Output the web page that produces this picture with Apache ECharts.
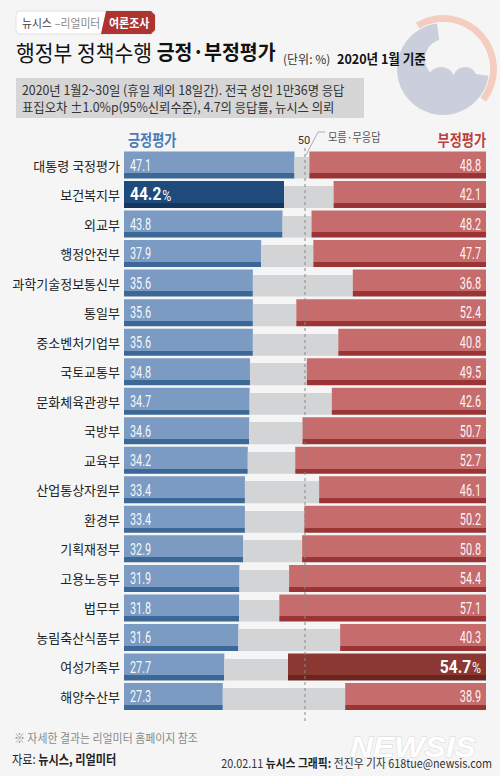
<!DOCTYPE html>
<html><head><meta charset="utf-8">
<script src="https://cdn.jsdelivr.net/npm/echarts@6/dist/echarts.min.js"></script>
<style>html,body{margin:0;padding:0;background:#f5f5f5;}#c{width:500px;height:776px;}</style>
</head><body><div id="c"></div>
<script>
const categories = ['대통령 국정평가','보건복지부','외교부','행정안전부','과학기술정보통신부','통일부','중소벤처기업부','국토교통부','문화체육관광부','국방부','교육부','산업통상자원부','환경부','기획재정부','고용노동부','법무부','농림축산식품부','여성가족부','해양수산부'];
const positive = [47.1,44.2,43.8,37.9,35.6,35.6,35.6,34.8,34.7,34.6,34.2,33.4,33.4,32.9,31.9,31.8,31.6,27.7,27.3];
const negative = [48.8,42.1,48.2,47.7,36.8,52.4,40.8,49.5,42.6,50.7,52.7,46.1,50.2,50.8,54.4,57.1,40.3,54.7,38.9];
const dontKnow = categories.map((c,i)=>Math.round((100-positive[i]-negative[i])*10)/10);
const axisRange = [0, 100];
const midMark = 50;
const highlightPositive = 1, highlightNegative = 17;

const KR = '"Noto Sans CJK KR", sans-serif';
const NUM = 'Roboto, "Liberation Sans", sans-serif';
function band(c, s){
  return new echarts.graphic.LinearGradient(0,0,0,1,[{offset:0,color:c},{offset:0.81,color:c},{offset:0.81,color:s},{offset:1,color:s}]);
}
function grayFill(){
  return new echarts.graphic.LinearGradient(0,0,0,1,[{offset:0,color:'rgba(211,212,214,0)'},{offset:0.19,color:'rgba(211,212,214,0)'},{offset:0.19,color:'#d3d4d6'},{offset:1,color:'#d3d4d6'}]);
}

const chart = echarts.init(document.getElementById('c'), null, {renderer:'svg'});

function labelItem(side){
  return function(params, api){
    const v = api.value(0), i = api.value(1);
    const hl = side==='pos' ? i===highlightPositive : i===highlightNegative;
    const pt = api.coord([side==='pos'?axisRange[0]:axisRange[1], i]);
    const txt = v.toFixed(1);
    return {
      type:'text',
      x: side==='pos' ? pt[0]+6 : pt[0]-5,
      y: pt[1] + (hl?-1:0),
      scaleX: hl ? 0.82 : 0.68,
      style: hl ? {
        text: '{b|'+txt+'}{p|%}',
        textAlign: side==='pos'?'left':'right', verticalAlign:'middle',
        rich:{ b:{fill:'#fff', fontFamily:NUM, fontWeight:'bold', fontSize:19}, p:{fill:'#fff', fontFamily:NUM, fontSize:15, padding:[3,0,0,1]} }
      } : {
        text: txt, fill:'rgba(255,255,255,0.95)', fontFamily:NUM, fontSize:16,
        textAlign: side==='pos'?'left':'right', verticalAlign:'middle'
      }
    };
  };
}

const option = {
  backgroundColor:'#f5f5f5',
  animation:false,
  grid:{left:124, right:14, top:150.25, bottom:64.75, outerBoundsMode:'none'},
  xAxis:{type:'value', min:axisRange[0], max:axisRange[1], show:false},
  yAxis:{type:'category', data:categories, inverse:true,
    axisLine:{show:false}, axisTick:{show:false},
    axisLabel:{color:'#222', fontSize:13, fontFamily:KR, margin:4}},
  series:[
    {type:'bar', stack:'t', barWidth:27, silent:true,
      data: positive.map((v,i)=>({value:v, itemStyle:{color: i===highlightPositive ? band('#1f4a7c','#15375e') : band('#7b9bc3','#3b6896')}}))},
    {type:'bar', stack:'t', barWidth:27, silent:true,
      data: dontKnow.map(v=>({value:v, itemStyle:{color:grayFill()}}))},
    {type:'bar', stack:'t', barWidth:27, silent:true,
      data: negative.map((v,i)=>({value:v, itemStyle:{color: i===highlightNegative ? band('#8c3832','#6c2420') : band('#c76c6c','#9b3535')}}))},
    {type:'custom', z:5, silent:true, renderItem:labelItem('pos'), data: positive.map((v,i)=>[v,i])},
    {type:'custom', z:5, silent:true, renderItem:labelItem('neg'), data: negative.map((v,i)=>[v,i])}
  ]
};
chart.setOption(option);

const x50 = chart.convertToPixel({xAxisIndex:0}, midMark);
const ex = 443, ey = 69;
const eb = '#cbcfdc';
chart.setOption({graphic:[
  // emblem
  {type:'sector', z:0, shape:{cx:ex, cy:ey, r0:47, r:54, startAngle:-2.1, endAngle:0.65, clockwise:true}, style:{fill:'#f4cdc0'}},
  {type:'circle', z:0, shape:{cx:ex, cy:ey, r:46}, style:{fill:eb}},
  {type:'sector', z:0, shape:{cx:ex, cy:ey, r0:0, r:47, startAngle:-1.7, endAngle:0.15, clockwise:true}, style:{fill:'#f5f5f5'}},
  {type:'circle', z:0, shape:{cx:ex+2, cy:ey-10, r:20}, style:{fill:'#f5f5f5'}},
  {type:'circle', z:0, shape:{cx:ex+22, cy:ey+10, r:12}, style:{fill:eb}},
  {type:'circle', z:0, shape:{cx:ex-2, cy:ey+12, r:14}, style:{fill:eb}},
  // badge
  {type:'rect', z:10, shape:{x:16, y:11, width:139, height:23, r:4}, style:{fill:'#ffffff', stroke:'#e2e2e2', lineWidth:1}},
  {type:'polygon', z:10, shape:{points:[[106,11],[151,11],[155,15],[155,30],[151,34],[101,34]]}, style:{fill:'#ad342f'}},
  {type:'text', z:11, x:22, y:22.5, scaleX:0.9, style:{text:'{a|뉴시스} {b|–리얼미터}', verticalAlign:'middle',
    rich:{a:{fill:'#444', fontSize:12, fontFamily:KR}, b:{fill:'#8a8a8a', fontSize:12, fontFamily:KR}}}},
  {type:'text', z:11, x:109, y:22.5, scaleX:0.88, style:{text:'여론조사', fill:'#fff', fontSize:12.5, fontWeight:'bold', fontFamily:KR, verticalAlign:'middle'}},
  // title
  {type:'text', z:11, x:16, y:51.5, scaleX:0.95, style:{text:'{a|행정부 정책수행 }{b|긍정·부정평가}', verticalAlign:'middle',
    rich:{a:{fill:'#111', fontSize:21.5, fontFamily:KR}, b:{fill:'#111', fontSize:20.5, fontWeight:'bold', fontFamily:KR}}}},
  {type:'text', z:11, x:283, y:58, style:{text:'(단위: %)', fill:'#333', fontSize:12, fontFamily:KR, verticalAlign:'middle'}},
  {type:'text', z:11, x:337, y:58, scaleX:0.93, style:{text:'2020년 1월 기준', fill:'#111', fontSize:13.5, fontWeight:'bold', fontFamily:KR, verticalAlign:'middle'}},
  // info box
  {type:'rect', z:10, shape:{x:16, y:78, width:348, height:40}, style:{fill:'#d6d6d6'}},
  {type:'text', z:11, x:22, y:89, scaleX:0.95, style:{text:'2020년 1월2~30일 (휴일 제외 18일간). 전국 성인 1만36명 응답', fill:'#333', fontSize:13, fontFamily:KR, verticalAlign:'middle'}},
  {type:'text', z:11, x:22, y:106.5, scaleX:0.95, style:{text:'표집오차 ±1.0%p(95%신뢰수준), 4.7의 응답률, 뉴시스 의뢰', fill:'#333', fontSize:13, fontFamily:KR, verticalAlign:'middle'}},
  // legend-like headings
  {type:'text', z:11, x:128, y:139, scaleX:0.85, style:{text:'긍정평가', fill:'#4a79b6', fontSize:15.5, fontWeight:'bold', fontFamily:KR, verticalAlign:'middle'}},
  {type:'text', z:11, x:486, y:139, scaleX:0.85, style:{text:'부정평가', fill:'#b9403e', fontSize:15.5, fontWeight:'bold', fontFamily:KR, verticalAlign:'middle', textAlign:'right'}},
  {type:'text', z:11, x:x50-1, y:140, style:{text:String(midMark), fill:'#333', fontSize:11, fontFamily:NUM, verticalAlign:'middle', textAlign:'center'}},
  {type:'polyline', z:11, shape:{points:[[x50+1,155],[x50+13,132],[x50+20,132]]}, style:{stroke:'#9a9a9a', lineWidth:0.8, fill:null}},
  {type:'text', z:11, x:x50+23, y:137, scaleX:0.85, style:{text:'모름·무응답', fill:'#555', fontSize:12, fontFamily:KR, verticalAlign:'middle'}},
  {type:'line', z:100, shape:{x1:x50, y1:148, x2:x50, y2:722}, style:{stroke:'#888', lineWidth:1, lineDash:[3,3]}},
  // footer
  {type:'text', z:11, x:14, y:738, scaleX:0.91, style:{text:'※ 자세한 결과는 리얼미터 홈페이지 참조', fill:'#8a8a8a', fontSize:12, fontFamily:KR, verticalAlign:'middle'}},
  {type:'text', z:11, x:12, y:758, scaleX:0.86, style:{text:'{a|자료: }{b|뉴시스, 리얼미터}', verticalAlign:'middle',
    rich:{a:{fill:'#222', fontSize:13, fontFamily:KR}, b:{fill:'#222', fontSize:13, fontWeight:'bold', fontFamily:KR}}}},
  {type:'text', z:11, x:350, y:747, scaleX:1.1, style:{text:'NEWSIS', fill:'#ffffff', stroke:'#d8d8d8', lineWidth:1, fontSize:29, fontWeight:'bold', fontStyle:'italic', fontFamily:'"Liberation Sans", sans-serif', verticalAlign:'middle'}},
  {type:'text', z:11, x:492, y:763, scaleX:0.9, style:{text:'{a|20.02.11 }{b|뉴시스 그래픽:}{a| 전진우 기자 618tue@newsis.com}', verticalAlign:'middle', textAlign:'right',
    rich:{a:{fill:'#333', fontSize:12, fontFamily:KR}, b:{fill:'#222', fontSize:12, fontWeight:'bold', fontFamily:KR}}}}
]});
</script></body></html>
